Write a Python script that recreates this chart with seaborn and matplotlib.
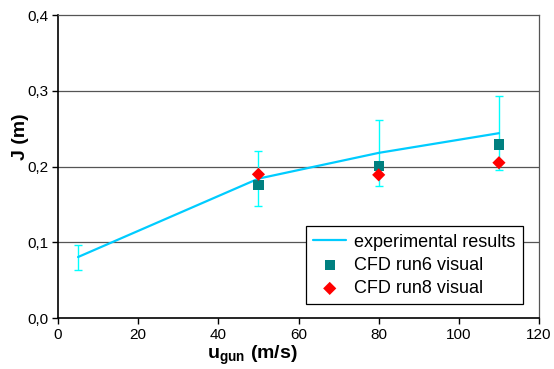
import matplotlib
matplotlib.use("Agg")
import matplotlib.pyplot as plt
import matplotlib.ticker as mticker
import seaborn as sns
import pandas as pd

u_exp = [5, 50, 80, 110]
j_exp = [0.0805, 0.184, 0.218, 0.244]
j_exp_hi = [0.096, 0.2205, 0.262, 0.293]
j_exp_lo = [0.064, 0.148, 0.174, 0.196]

u_cfd = [50, 80, 110]
j_run6 = [0.1756, 0.2007, 0.229]
j_run8 = [0.1897, 0.189, 0.205]

sns.set_theme(style="white")
plt.rcParams['font.family'] = ['Liberation Sans', 'DejaVu Sans']
plt.rcParams['mathtext.fontset'] = 'custom'
plt.rcParams['mathtext.rm'] = 'Liberation Sans'
plt.rcParams['mathtext.bf'] = 'Liberation Sans:bold'
plt.rcParams['text.color'] = 'black'
plt.rcParams['axes.labelcolor'] = 'black'

fig = plt.figure(figsize=(5.54, 3.69), dpi=100)
ax = fig.add_axes([0.1047, 0.1382, 0.973 - 0.1047, 0.9593 - 0.1382])

for y in [0.1, 0.2, 0.3]:
    ax.axhline(y, color="#555555", lw=0.9, zorder=0)

yerr = [[j - lo for j, lo in zip(j_exp, j_exp_lo)], [hi - j for j, hi in zip(j_exp, j_exp_hi)]]
ax.errorbar(u_exp, j_exp, yerr=yerr, fmt="none", ecolor="#00FFFF", elinewidth=1, capsize=3, capthick=1, zorder=2)

df_exp = pd.DataFrame({"u": u_exp, "J": j_exp})
sns.lineplot(data=df_exp, x="u", y="J", ax=ax, color="#00CCFF", lw=1.6, label="experimental results", zorder=3)

df6 = pd.DataFrame({"u": u_cfd, "J": j_run6})
df8 = pd.DataFrame({"u": u_cfd, "J": j_run8})
sns.scatterplot(data=df6, x="u", y="J", ax=ax, marker="s", color="#008080", s=55, edgecolor="none", label="CFD run6 visual", zorder=4)
sns.scatterplot(data=df8, x="u", y="J", ax=ax, marker="D", color="#FF0000", s=45, edgecolor="none", label="CFD run8 visual", zorder=5)

ax.set_xlim(0, 120)
ax.set_ylim(0, 0.4)
ax.set_xticks(range(0, 121, 20))
ax.set_yticks([0.0, 0.1, 0.2, 0.3, 0.4])
ax.yaxis.set_major_formatter(mticker.FuncFormatter(lambda v, p: f"{v:.1f}".replace(".", ",")))
ax.tick_params(axis="both", which="major", direction="out", length=4, width=1, color="black", labelsize=11, labelcolor="black", bottom=True, left=True, pad=3)

for s in ["left", "bottom"]:
    ax.spines[s].set_color("black")
    ax.spines[s].set_linewidth(1.2)
for s in ["top", "right"]:
    ax.spines[s].set_color("#555555")
    ax.spines[s].set_linewidth(0.9)

ax.set_ylabel("J (m)", fontsize=14, fontweight="bold", color="black")
ax.yaxis.set_label_coords(-0.06, 0.60)
ax.set_xlabel(r"$\mathbf{u_{gun}}$ (m/s)", fontsize=14, fontweight="bold", color="black")
ax.xaxis.set_label_coords(0.403, -0.085)

leg = ax.legend(loc="lower right", bbox_to_anchor=(0.966, 0.045), fontsize=13, frameon=True, fancybox=False,
                edgecolor="black", framealpha=1, borderpad=0.4, handlelength=1.8, labelspacing=0.35,
                handletextpad=0.45, borderaxespad=0.0)
leg.get_frame().set_linewidth(0.9)
for t in leg.get_texts():
    t.set_color("black")

fig.savefig("out.png", dpi=100)
